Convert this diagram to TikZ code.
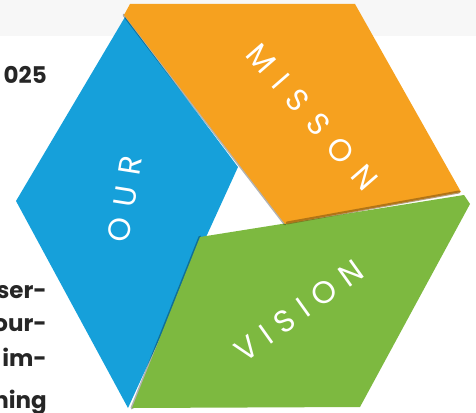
\documentclass[tikz,border=0pt]{standalone}
\usepackage{fontspec}
\setsansfont{Poppins}
\usetikzlibrary{positioning}
\definecolor{coulbleu}{HTML}{16A0DA}
\definecolor{coulorange}{HTML}{F6A11F}
\definecolor{coulvert}{HTML}{7DB940}
\newcommand{\ecart}[1]{\kern#1pt}

\begin{document}
\begin{tikzpicture}[line cap=round,line join=round,x=1pt,y=-1pt,
	lettre/.style={text=white,font=\sffamily\fontsize{31}{34}\selectfont,inner sep=0pt},
	texte/.style={font=\sffamily\bfseries\fontsize{23}{26}\selectfont,text=black!85,inner sep=0pt,anchor=base east},
	ombre/.style={draw=black,draw opacity=0.3,line width=3pt},
	bord/.style={draw=coulorange!50!black,draw opacity=0.55,line width=3pt}]
		\useasboundingbox (0,0) rectangle (476,412);
		\clip (0,0) rectangle (476,412);
		%fond
		\fill[gray!6] (0,0) rectangle (476,36);
		%texte coupe
		\node[texte] (annee) at (47,83) {025};
		\node[texte] (ligneA) at (47,298) {ser-};
		\node[texte] (ligneB) at (47,331) {our-};
		\node[texte] (ligneC) at (47,366) {im-};
		\node[texte] (ligneD) at (47,408) {ning};
		%partie bleue
		\fill[coulbleu] (125,17)--(16,201)--(128,408)--(238,167)--cycle;
		%partie verte
		\draw[ombre] (132,408)--(200,237);
		\fill[coulvert] (200,237)--(464,195)--(470,204)--(360,407)--(132,408)--cycle;
		%partie orange
		\draw[ombre] (124,15)--(285,224);
		\fill[coulorange] (130,4)--(355,4)--(461,192)--(285,224)--(124,15)--cycle;
		\draw[bord] (287,223)--(459,192);
		%etiquettes
		\node[lettre,rotate=81] (our) at (125,199) {O\ecart{11}U\ecart{11}R};
		\node[lettre,rotate=-49] (misson) at (312,117) {M\ecart{13}I\ecart{13}S\ecart{13}S\ecart{13}O\ecart{13}N};
		\node[lettre,rotate=35.5] (vision) at (299,311) {V\ecart{10}I\ecart{10}S\ecart{10}I\ecart{10}O\ecart{10}N};
		\end{tikzpicture}
\end{document}
